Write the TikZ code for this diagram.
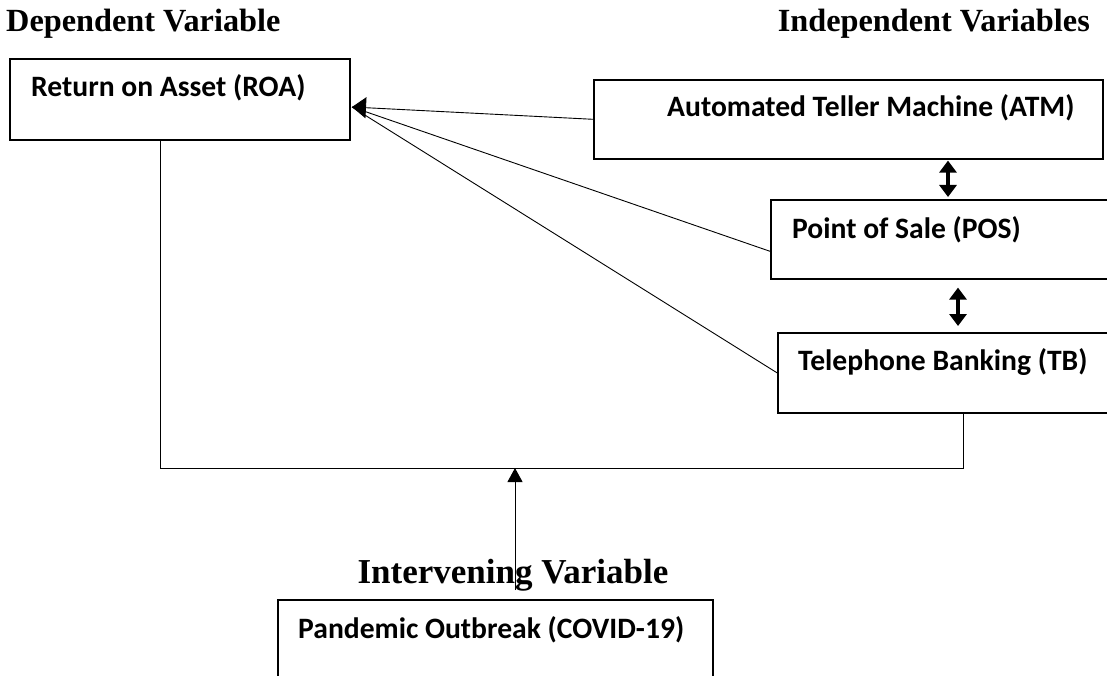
\documentclass[tikz,border=0pt]{standalone}
\usepackage{fontspec}
\setmainfont{Liberation Serif}
\newfontfamily\calibri{Carlito}
\usetikzlibrary{arrows.meta, calc}

\tikzset{
  box/.style={draw, line width=1.6pt, anchor=north west, inner sep=0pt},
  boxtext/.style={anchor=base west, inner sep=0pt, font=\calibri\bfseries\fontsize{29.6}{35}\selectfont},
  head/.style={inner sep=0pt, font=\bfseries\fontsize{32.3}{38}\selectfont},
  link/.style={line width=0.9pt},
  dbl/.style={line width=4.5pt, {Triangle[width=17pt,length=12pt]}-{Triangle[width=17pt,length=12pt]}},
}

\begin{document}
\begin{tikzpicture}[x=1pt, y=-1pt]
    \useasboundingbox (0,0) rectangle (1107,676);
    \clip (0,0) rectangle (1107,676);

    % Headers
    \node[head, anchor=base west] (dephead) at (6,32) {Dependent Variable};
    \node[head, anchor=base east] (indhead) at (1090,32) {Independent Variables};
    \node[head, font=\bfseries\fontsize{35}{42}\selectfont, anchor=base] (intvhead) at (513,583) {Intervening Variable};

    % Boxes
    \node[box, minimum width=340pt, minimum height=81pt] (roa) at (9,58) {};
    \node[boxtext] (roatext) at ([shift={(22,39)}]roa.north west) {Return on Asset (ROA)};

    \node[box, minimum width=509pt, minimum height=79pt] (atm) at (593,79) {};
    \node[boxtext] (atmtext) at ([shift={(74,38)}]atm.north west) {Automated Teller Machine (ATM)};

    \node[box, minimum width=400pt, minimum height=79pt] (pos) at (770,199) {};
    \node[boxtext] (postext) at ([shift={(22,39)}]pos.north west) {Point of Sale (POS)};

    \node[box, minimum width=372pt, minimum height=80pt] (tb) at (777,332) {};
    \node[boxtext] (tbtext) at ([shift={(21,38)}]tb.north west) {Telephone Banking (TB)};

    \node[box, minimum width=435pt, minimum height=120pt] (covid) at (277,599) {};
    \node[boxtext] (covidtext) at ([shift={(21,39)}]covid.north west) {Pandemic Outbreak (COVID-19)};

    % Links to ROA
    \coordinate (roatip) at (352,107);
    \draw[link, -{Triangle[width=21pt,length=14pt]}] (atm.west) -- (roatip);
    \draw[link] ([shift={(0,12)}]pos.west) -- (roatip);
    \draw[link] (tb.west) -- (roatip);

    % Correlations between the independent variables
    \coordinate (dblA) at (948,0);
    \coordinate (dblB) at (958,0);
    \draw[dbl, shorten <=1pt, shorten >=2pt] (dblA |- atm.south) -- (dblA |- pos.north);
    \draw[dbl, shorten <=8pt, shorten >=6pt] (dblB |- pos.south) -- (dblB |- tb.north);

    % Moderating path
    \coordinate (loopL) at (160,468);
    \draw[link] (tb.south) |- (loopL) -- (loopL |- roa.south);
    \coordinate (covtail) at (515,590);
    \draw[link, -{Triangle[width=15pt,length=14pt]}] (covtail) -- (covtail |- loopL);
\end{tikzpicture}
\end{document}
